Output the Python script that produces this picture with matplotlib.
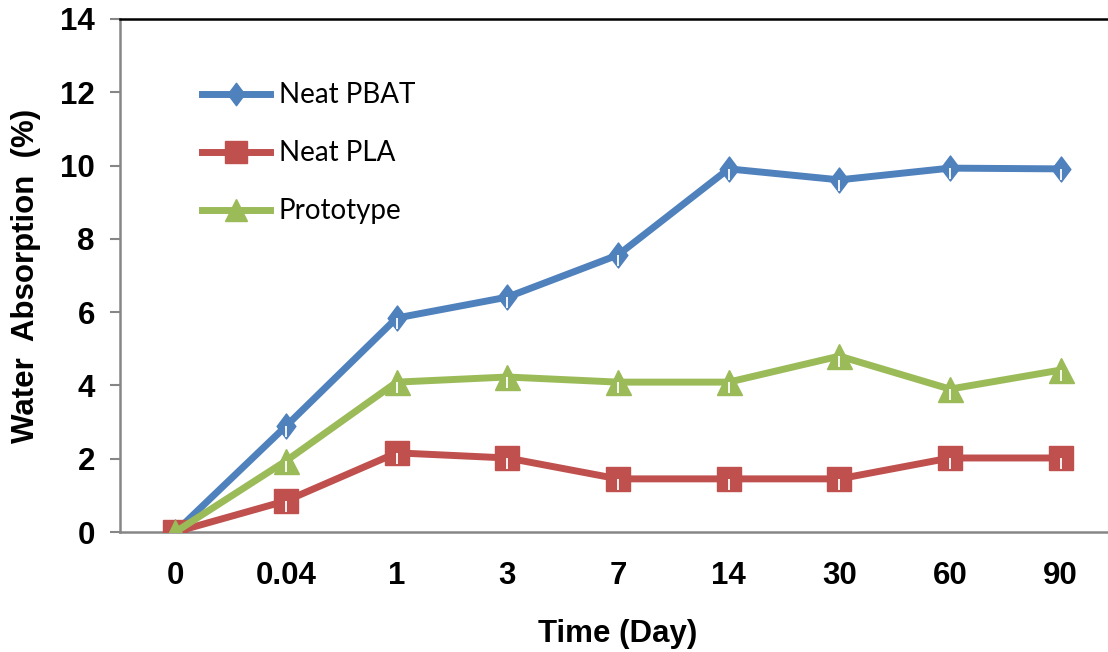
import numpy as np
import matplotlib
matplotlib.use('Agg')
import matplotlib.pyplot as plt
from matplotlib.path import Path

days = ['0', '0.04', '1', '3', '7', '14', '30', '60', '90']
pbat = [0, 2.89, 5.84, 6.41, 7.56, 9.91, 9.61, 9.93, 9.91]
pla = [0, 0.85, 2.16, 2.02, 1.45, 1.45, 1.45, 2.02, 2.02]
proto = [0, 1.94, 4.09, 4.23, 4.09, 4.09, 4.80, 3.90, 4.42]

blue = '#4F81BD'
red = '#C0504D'
green = '#9BBB59'

diamond = Path([(0, 1), (0.75, 0), (0, -1), (-0.75, 0), (0, 1)],
               [Path.MOVETO, Path.LINETO, Path.LINETO, Path.LINETO, Path.CLOSEPOLY])

fig = plt.figure(figsize=(11.08, 6.52), dpi=100)
ax = fig.add_axes([120/1108, 120/652, 996/1108, 513/652])

x = np.arange(len(days))
ax.plot(x, pbat, color=blue, lw=5, marker=diamond, ms=18, label='Neat PBAT', zorder=3)
ax.plot(x, pla, color=red, lw=5, marker='s', ms=17, label='Neat PLA', zorder=3)
ax.plot(x, proto, color=green, lw=5, marker='^', ms=18, label='Prototype', zorder=3)

# little white marks inside markers (excel error bar leftovers)
for ys in (pbat, pla, proto):
    ys = np.array(ys)
    ax.vlines(x, ys - 0.3, ys, color='white', lw=1.3, zorder=4)

ax.set_xlim(-0.5, 8.5)
ax.set_ylim(0, 14)
ax.set_yticks(range(0, 15, 2))
ax.set_xticks(x)
ax.set_xticklabels(days)

for lab in ax.get_xticklabels() + ax.get_yticklabels():
    lab.set_fontfamily('Liberation Sans')
    lab.set_fontweight('bold')
    lab.set_fontsize(22.5)

ax.tick_params(axis='x', length=0, pad=21)
ax.tick_params(axis='y', length=7, width=1.5, color='#868686', pad=11)

ax.spines['left'].set_color('#868686')
ax.spines['left'].set_linewidth(1.8)
ax.spines['bottom'].set_color('#868686')
ax.spines['bottom'].set_linewidth(1.8)
ax.spines['top'].set_color('black')
ax.spines['top'].set_linewidth(1.8)
ax.spines['right'].set_visible(False)

ax.set_xlabel('Time (Day)', fontfamily='Liberation Sans', fontweight='bold', fontsize=22.5, labelpad=20)
ax.set_ylabel('Water  Absorption  (%)', fontfamily='Liberation Sans', fontweight='bold', fontsize=22.5, labelpad=14)

leg = ax.legend(loc='upper left', bbox_to_anchor=(0.0575, 0.925), frameon=False,
                handlelength=2.45, labelspacing=1.15, handletextpad=0.3,
                prop={'family': 'Lato', 'size': 20}, markerscale=0.9)

fig.savefig('out.png', dpi=100)
